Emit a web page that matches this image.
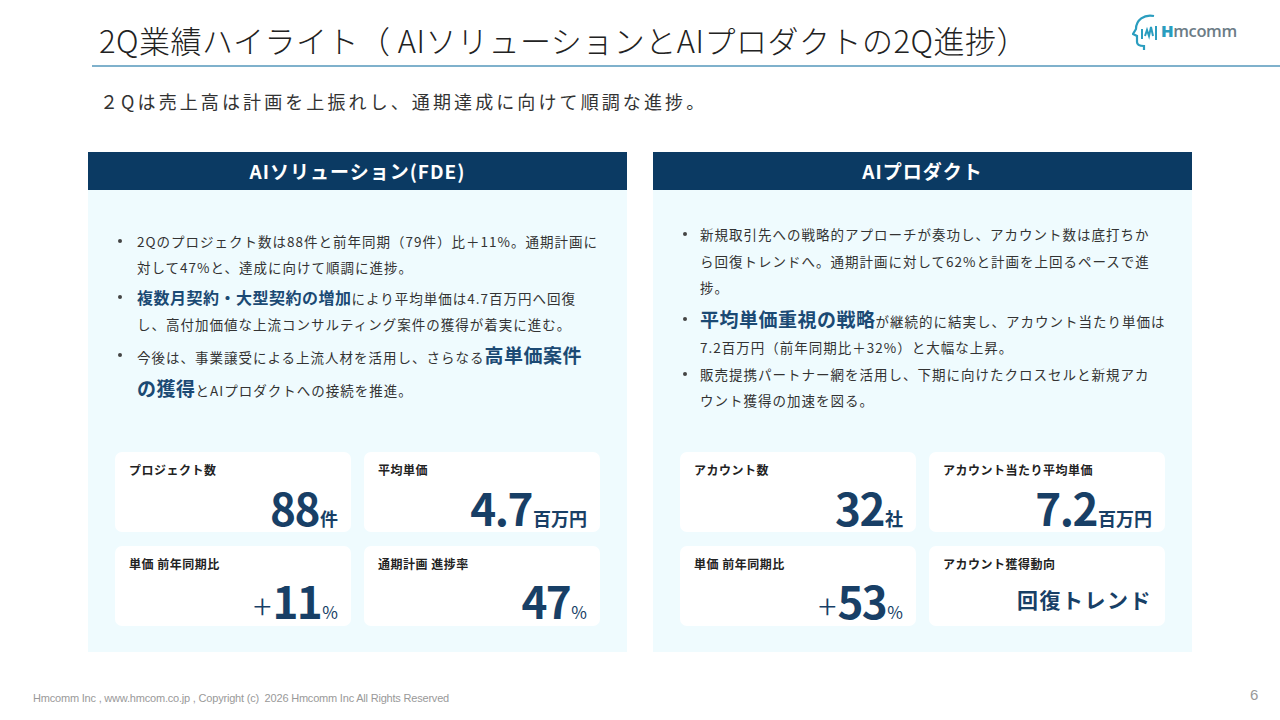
<!DOCTYPE html>
<html lang="ja">
<head>
<meta charset="UTF-8">
<title>2Q業績ハイライト</title>
<script src="https://cdn.jsdelivr.net/npm/chart.js"></script>
<style>
    html, body { margin: 0; padding: 0; }
    body {
        width: 1280px; height: 720px; position: relative; overflow: hidden;
        background: #fff; font-family: "Noto Sans CJK JP", "Noto Sans", sans-serif; color: #333;
    }
    #title {
        position: absolute; left: 99px; top: 18px; font-size: 31px; font-weight: 300;
        color: #222; letter-spacing: 0.5px; white-space: nowrap; line-height: 44px;
    }
    #rule { position: absolute; left: 92px; right: 0; top: 65px; height: 2px; background: #7fb1cc; }
    #logo { position: absolute; left: 1132px; top: 12px; width: 100px; height: 40px; }
    #logo .txt { position: absolute; left: 29px; top: 7px; font-family: "Open Sans", sans-serif; font-size: 16.5px; font-weight: 600; color: #6c7c86; letter-spacing: -0.4px; }
    #logo .txt b { color: #2a9dbf; }
    #sub {
        position: absolute; left: 100px; top: 88px; font-size: 18px; letter-spacing: 3.1px;
        color: #333; white-space: nowrap; line-height: 26px;
    }
    .panel { position: absolute; top: 152px; width: 539px; height: 500px; background: #effbfe; }
    .panel .head {
        height: 38px; background: #0b3a63; color: #fff; font-weight: 700; font-size: 19px;
        text-align: center; line-height: 38px; letter-spacing: 1px;
    }
    .line { position: absolute; white-space: nowrap; font-size: 13.5px; line-height: 26px; height: 26px; letter-spacing: 1px; color: #333; }
    .dot { position: absolute; width: 4px; height: 4px; border-radius: 2px; background: #444; }
    .em { color: #1b4a74; font-weight: 700; font-size: 16px; letter-spacing: 0.5px; }
    .em2 { color: #1b4a74; font-weight: 700; font-size: 19px; letter-spacing: 0.5px; }
    .card { position: absolute; width: 236px; height: 80px; background: #fff; border-radius: 7px; }
    .card .lab { position: absolute; left: 14px; top: 9px; font-size: 12px; font-weight: 700; color: #222; letter-spacing: 0.5px; line-height: 18px; }
    .card .val {
        position: absolute; right: 13px; bottom: 7px; white-space: nowrap; color: #183f66;
        display: flex; align-items: baseline;
    }
    .card .val span { display: inline-block; line-height: 0.8; }
    .card .num { font-size: 44px; font-weight: 700; letter-spacing: -1.5px; }
    .card .unit { font-size: 18px; font-weight: 700; margin-left: 1px; }
    .card .pre { font-size: 34px; font-weight: 200; margin-right: 1px; }
    .card .pct { font-size: 17px; font-weight: 400; margin-left: 1px; }
    .card .word { font-size: 21px; font-weight: 700; letter-spacing: 1.5px; position: relative; top: -11px; }
    #foot { position: absolute; left: 33px; top: 692px; font-family: "Liberation Sans", Arial, sans-serif; font-size: 11px; color: #999; letter-spacing: -0.2px; white-space: nowrap; }
    #page { position: absolute; left: 1250px; top: 686px; font-family: "Liberation Sans", Arial, sans-serif; font-size: 15px; color: #999; }
</style>
</head>
<body>
<div id="title">2Q業績ハイライト（ AIソリューションとAIプロダクトの2Q進捗）</div>
<div id="rule"></div>
<div id="logo">
    <svg width="32" height="40" viewBox="0 0 32 40" style="position:absolute;left:0;top:0">
        <path d="M22 4 C12 2 4 8 4 17 L1 22 L5 24 L5 30 C5 33 8 34 12 34 L12 38" fill="none" stroke="#2a9dbf" stroke-width="2.2"/>
        <path d="M10 27 L10 17 M13 24 L15 18 L17 24 L19 15 L21 24 M24 14 L24 28" fill="none" stroke="#2a9dbf" stroke-width="2"/>
    </svg>
    <div class="txt"><b>H</b>mcomm</div>
</div>
<div id="sub">２Qは売上高は計画を上振れし、通期達成に向けて順調な進捗。</div>

<div class="panel" id="left" style="left:88px">
    <div class="head">AIソリューション(FDE)</div>
</div>
<div class="panel" id="right" style="left:653px">
    <div class="head">AIプロダクト</div>
</div>

<div id="foot">Hmcomm Inc , www.hmcom.co.jp , Copyright (c)&nbsp; 2026 Hmcomm Inc All Rights Reserved</div>
<div id="page">6</div>

<script>
// KPI cards: label / prefix / value / unit
const fdeLabels = ['プロジェクト数', '平均単価', '単価 前年同期比', '通期計画 進捗率'];
const fdePrefix = ['', '', '+', ''];
const fdeValues = ['88', '4.7', '11', '47'];
const fdeUnits  = ['件', '百万円', '%', '%'];

const prodLabels = ['アカウント数', 'アカウント当たり平均単価', '単価 前年同期比', 'アカウント獲得動向'];
const prodPrefix = ['', '', '+', ''];
const prodValues = ['32', '7.2', '53', '回復トレンド'];
const prodUnits  = ['社', '百万円', '%', ''];

// bullet lines: [center y (panel-relative), html, starts a bullet]
const fdeLines = [
    [89, '2Qのプロジェクト数は88件と前年同期（79件）比＋11%。通期計画に', true],
    [115, '対して47%と、達成に向けて順調に進捗。', false],
    [145, '<span class="em">複数月契約・大型契約の増加</span>により平均単価は4.7百万円へ回復', true],
    [172, 'し、高付加価値な上流コンサルティング案件の獲得が着実に進む。', false],
    [203, '今後は、事業譲受による上流人材を活用し、さらなる<span class="em2">高単価案件</span>', true],
    [236, '<span class="em2">の獲得</span>とAIプロダクトへの接続を推進。', false]
];
const prodLines = [
    [82, '新規取引先への戦略的アプローチが奏功し、アカウント数は底打ちか', true],
    [109, 'ら回復トレンドへ。通期計画に対して62%と計画を上回るペースで進', false],
    [135, '捗。', false],
    [167, '<span class="em2">平均単価重視の戦略</span>が継続的に結実し、アカウント当たり単価は', true],
    [195, '7.2百万円（前年同期比＋32%）と大幅な上昇。', false],
    [222, '販売提携パートナー網を活用し、下期に向けたクロスセルと新規アカ', true],
    [248, 'ウント獲得の加速を図る。', false]
];

function fill(panelId, lines, textX, labels, prefix, values, units) {
    const p = document.getElementById(panelId);
    lines.forEach(([cy, html, bullet]) => {
        const d = document.createElement('div');
        d.className = 'line';
        d.style.left = textX + 'px';
        d.style.top = (cy - 13) + 'px';
        d.innerHTML = html;
        p.appendChild(d);
        if (bullet) {
            const b = document.createElement('div');
            b.className = 'dot';
            b.style.left = '30px';
            b.style.top = (cy - 2) + 'px';
            p.appendChild(b);
        }
    });
    const xs = [27, 276], ys = [300, 394];
    for (let i = 0; i < labels.length; i++) {
        const c = document.createElement('div');
        c.className = 'card';
        c.style.left = xs[i % 2] + 'px';
        c.style.top = ys[Math.floor(i / 2)] + 'px';
        let v;
        if (/^[0-9.]+$/.test(values[i])) {
            const isPct = units[i] === '%';
            v = (prefix[i] ? `<span class="pre">${prefix[i]}</span>` : '') +
                `<span class="num">${values[i]}</span>` +
                `<span class="${isPct ? 'pct' : 'unit'}">${units[i]}</span>`;
        } else {
            v = `<span class="word">${values[i]}</span>`;
        }
        c.innerHTML = `<div class="lab">${labels[i]}</div><div class="val">${v}</div>`;
        p.appendChild(c);
    }
}

fill('left', fdeLines, 49, fdeLabels, fdePrefix, fdeValues, fdeUnits);
fill('right', prodLines, 47, prodLabels, prodPrefix, prodValues, prodUnits);
</script>
</body>
</html>
